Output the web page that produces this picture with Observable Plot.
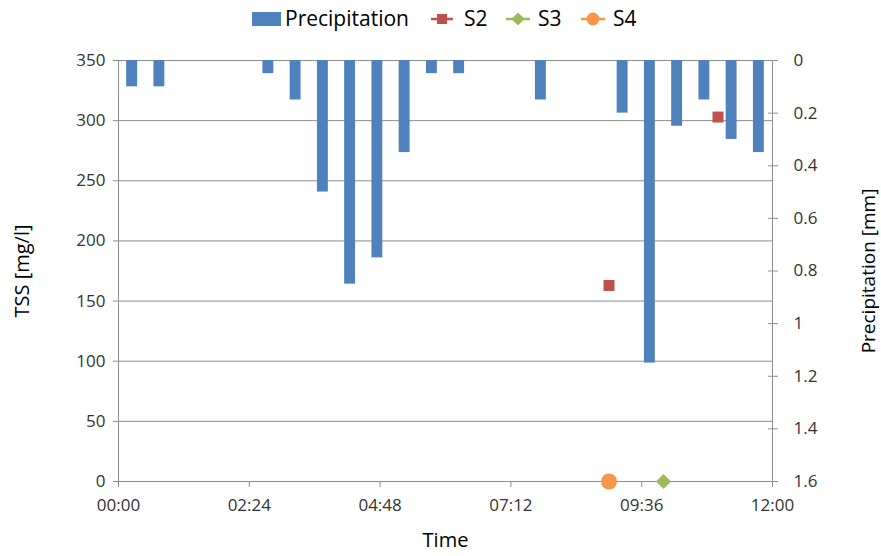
<!DOCTYPE html>
<html><head><meta charset="utf-8">
<script src="https://cdn.jsdelivr.net/npm/d3@7"></script>
<script src="https://cdn.jsdelivr.net/npm/@observablehq/plot@0.6"></script>
<style>
body{margin:0;background:#fff;font-family:"Open Sans",sans-serif;}
#wrap{width:881px;height:556px;position:relative;overflow:hidden;}
#legend{position:relative;height:36px;width:881px;font-size:21px;color:#000;}
#legend .t{position:absolute;top:0;line-height:36px;white-space:nowrap;}
#legend svg{position:absolute;top:0;left:0;}
#chart svg{display:block;}
</style></head><body>
<div id="wrap"><div id="legend"></div><div id="chart"></div></div>
<script>
// ---- data ----
const precipTimes = ["00:15","00:45","02:45","03:15","03:45","04:15","04:45","05:15","05:45","06:15","07:45","09:15","09:45","10:15","10:45","11:15","11:45"];
const precipValues = [0.1,0.1,0.05,0.15,0.5,0.85,0.75,0.35,0.05,0.05,0.15,0.2,1.15,0.25,0.15,0.3,0.35];
const s2Times = ["09:00","11:00"];
const s2Values = [163,303];
const s3Times = ["10:00"];
const s3Values = [0];
const s4Times = ["09:00"];
const s4Values = [0];
const tssTicks = [0,50,100,150,200,250,300,350];
const precipTicks = [0,0.2,0.4,0.6,0.8,1,1.2,1.4,1.6];
const timeTicks = ["00:00","02:24","04:48","07:12","09:36","12:00"];
const TSS_MAX = 350, P_MAX = 1.6;
const seriesNames = ["Precipitation","S2","S3","S4"];
const colors = {Precipitation:"#4F81BD", S2:"#C0504D", S3:"#9BBB59", S4:"#F79646"};

// ---- helpers ----
const t = s => { const [h,m] = s.split(":").map(Number); return new Date(Date.UTC(2000,0,1,h,m)); };
const toTss = p => TSS_MAX - p * TSS_MAX / P_MAX;
const fromTss = v => +((TSS_MAX - v) * P_MAX / TSS_MAX).toFixed(2);
const precip = precipTimes.map((s,i) => ({time: t(s), value: precipValues[i]}));
const pts = (times, vals) => times.map((s,i) => ({time: t(s), value: vals[i]}));
const s2 = pts(s2Times, s2Values), s3 = pts(s3Times, s3Values), s4 = pts(s4Times, s4Values);
const halfBar = 6 * 60 * 1000;
const gridColor = "#8C8C8C", tickText = "#333333";

const chart = Plot.plot({
  width: 881, height: 520,
  marginLeft: 118, marginRight: 109, marginTop: 24, marginBottom: 75,
  style: {fontFamily: "'Open Sans', sans-serif", background: "#fff", overflow: "visible"},
  x: {type: "utc", domain: [t("00:00"), t("12:00")]},
  y: {domain: [0, TSS_MAX]},
  marks: [
    Plot.ruleY(tssTicks, {stroke: gridColor, strokeWidth: 1}),
    Plot.rectY(precip, {
      x1: d => new Date(+d.time - halfBar), x2: d => new Date(+d.time + halfBar),
      y1: () => TSS_MAX, y2: d => toTss(d.value), fill: colors.Precipitation
    }),
    Plot.ruleX([t("00:00"), t("12:00")], {stroke: gridColor}),
    Plot.axisY(tssTicks, {anchor: "left", tickSize: 5, tickPadding: 8, fontSize: 17,
      stroke: gridColor, fill: tickText, label: null}),
    Plot.axisY(precipTicks.map(toTss), {anchor: "right", tickSize: 5, tickPadding: 16, fontSize: 17,
      stroke: gridColor, fill: tickText, label: null, tickFormat: v => String(fromTss(v))}),
    Plot.axisY(precipTicks.map(toTss), {anchor: "right", tickSize: 5, dx: -5,
      stroke: gridColor, fill: "none", label: null, tickFormat: () => ""}),
    Plot.axisX(timeTicks.map(t), {anchor: "bottom", tickSize: 6, tickPadding: 11, fontSize: 17,
      stroke: gridColor, fill: tickText, label: null, tickFormat: d3.utcFormat("%H:%M")}),
    Plot.dot(s2, {x: "time", y: "value", symbol: "square", r: 6.2, fill: colors.S2}),
    Plot.dot(s4, {x: "time", y: "value", symbol: "circle", r: 8, fill: colors.S4}),
    Plot.dot(s3, {x: "time", y: "value", symbol: "diamond2", r: 6.8, fill: colors.S3}),
    Plot.text(["TSS [mg/l]"], {text: d => d, frameAnchor: "left", textAnchor: "middle", lineAnchor: "middle",
      dx: -96, rotate: -90, fontSize: 20, fill: "#000"}),
    Plot.text(["Precipitation [mm]"], {text: d => d, frameAnchor: "right", textAnchor: "middle", lineAnchor: "middle",
      dx: 96, rotate: -90, fontSize: 19, fill: "#000"}),
    Plot.text(["Time"], {text: d => d, frameAnchor: "bottom", textAnchor: "middle", lineAnchor: "middle",
      dy: 59, fontSize: 20, fill: "#000"})
  ]
});
document.getElementById("chart").appendChild(chart);

// ---- legend ----
const legend = d3.select("#legend");
const lsvg = legend.append("svg").attr("width", 881).attr("height", 36);
const ly = 19;
lsvg.append("rect").attr("x", 252).attr("y", 12).attr("width", 29).attr("height", 14).attr("fill", colors.Precipitation);
const items = [
  {name: "S2", x1: 431, x2: 453, sym: d3.symbolSquare, size: 100},
  {name: "S3", x1: 506, x2: 530, sym: d3.symbolDiamond2, size: 110},
  {name: "S4", x1: 581, x2: 605, sym: d3.symbolCircle, size: 130}
];
items.forEach(it => {
  lsvg.append("line").attr("x1", it.x1).attr("x2", it.x2).attr("y1", ly).attr("y2", ly)
    .attr("stroke", colors[it.name]).attr("stroke-width", 2.5);
  lsvg.append("path").attr("d", d3.symbol(it.sym, it.size)())
    .attr("transform", `translate(${(it.x1 + it.x2) / 2},${ly})`).attr("fill", colors[it.name]);
});
const textPos = {Precipitation: 285, S2: 464, S3: 538, S4: 613};
seriesNames.forEach(n => {
  legend.append("div").attr("class", "t").style("left", textPos[n] + "px").text(n);
});
</script>
</body></html>
